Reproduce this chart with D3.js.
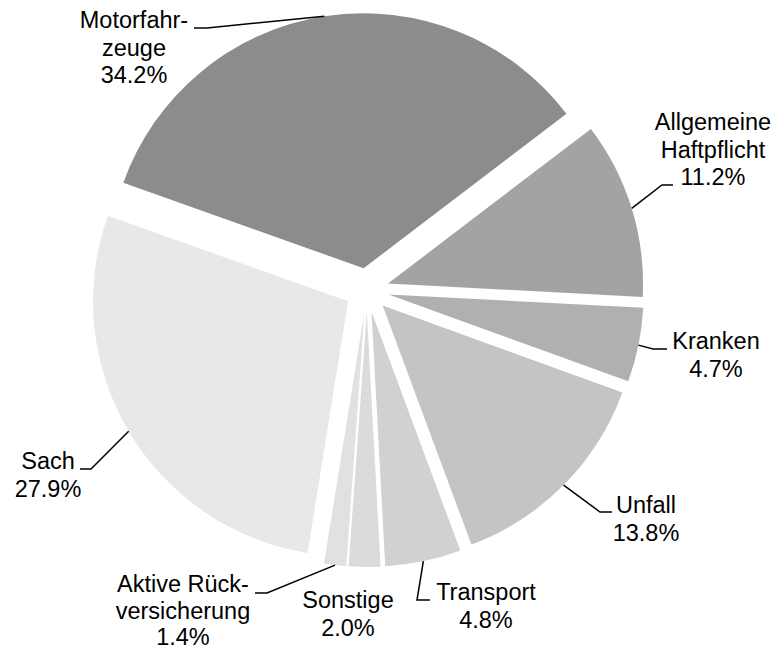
<!DOCTYPE html>
<html>
<head>
<meta charset="utf-8">
<script src="https://cdn.jsdelivr.net/npm/d3@7"></script>
<style>
    body { margin: 0; background: #fff; }
    svg { display: block; }
    text { font-family: Arial, "Liberation Sans", sans-serif; font-size: 23.5px; fill: #000; }
</style>
</head>
<body>
<div id="graphDiv"><svg></svg></div>
<script>
// data
var categories = ["Allgemeine Haftpflicht", "Kranken", "Unfall", "Transport", "Sonstige",
    "Aktive Rückversicherung", "Sach", "Motorfahrzeuge"];
var shares = [11.2, 4.7, 13.8, 4.8, 2.0, 1.4, 27.9, 34.2];
var labelLines = [
    ["Allgemeine", "Haftpflicht", "11.2%"],
    ["Kranken", "4.7%"],
    ["Unfall", "13.8%"],
    ["Transport", "4.8%"],
    ["Sonstige", "2.0%"],
    ["Aktive Rück-", "versicherung", "1.4%"],
    ["Sach", "27.9%"],
    ["Motorfahr-", "zeuge", "34.2%"]
];
var sliceColors = ["#a3a3a3", "#b0b0b0", "#c4c4c4", "#d1d1d1", "#dbdbdb", "#e1e1e1", "#e8e8e8", "#8c8c8c"];

// label layout: x centre, first baseline, line step, leader elbow and end (null = no leader)
var labelLayout = [
    {x: 713, y: 130, step: 27.5, elbow: [662, 185], end: [673, 185]},
    {x: 716, y: 349, step: 27.5, elbow: [653, 349], end: [667, 349]},
    {x: 646, y: 513, step: 27.5, elbow: [600, 512], end: [612, 512]},
    {x: 486, y: 600, step: 27.5, elbow: [417, 600], end: [430, 600]},
    {x: 348, y: 608, step: 27.5, elbow: null, end: null},
    {x: 183, y: 592, step: 26.5, elbow: [267, 593], end: [255, 593]},
    {x: 48, y: 469, step: 27.5, elbow: [91, 469], end: [80, 469]},
    {x: 134, y: 28, step: 27.5, elbow: [207, 28], end: [194, 28]}
];

var width = 775, height = 652,
    cx = 367, cy = 290,
    radius = 255,
    explode = 22,
    startDeg = 52.7;

var svg = d3.select("#graphDiv svg").attr("width", width).attr("height", height);

var pie = d3.pie()
    .sort(null)
    .value(function (d) { return d; })
    .startAngle(startDeg * Math.PI / 180)
    .endAngle((startDeg + 360) * Math.PI / 180);

var arc = d3.arc().innerRadius(0).outerRadius(radius);

var arcs = pie(shares);

function offset(d, r) {
    var mid = (d.startAngle + d.endAngle) / 2;
    return [Math.sin(mid) * r, -Math.cos(mid) * r];
}

var g = svg.append("g").attr("transform", "translate(" + cx + "," + cy + ")");

g.selectAll("path.slice")
    .data(arcs)
    .enter().append("path")
    .attr("class", "slice")
    .attr("d", arc)
    .attr("fill", function (d, i) { return sliceColors[i]; })
    .attr("transform", function (d) {
        var o = offset(d, explode);
        return "translate(" + o[0] + "," + o[1] + ")";
    });

// leader lines
var line = d3.line();
arcs.forEach(function (d, i) {
    var lay = labelLayout[i];
    if (!lay.elbow) return;
    var o = offset(d, explode), p = offset(d, radius);
    var start = [cx + o[0] + p[0], cy + o[1] + p[1]];
    svg.append("path")
        .attr("d", line([start, lay.elbow, lay.end]))
        .attr("fill", "none")
        .attr("stroke", "#000")
        .attr("stroke-width", 1.5);
});

// labels
labelLines.forEach(function (lines, i) {
    var lay = labelLayout[i];
    var t = svg.append("text").attr("text-anchor", "middle");
    lines.forEach(function (s, j) {
        t.append("tspan").attr("x", lay.x).attr("y", lay.y + j * lay.step).text(s);
    });
});
</script>
</body>
</html>
